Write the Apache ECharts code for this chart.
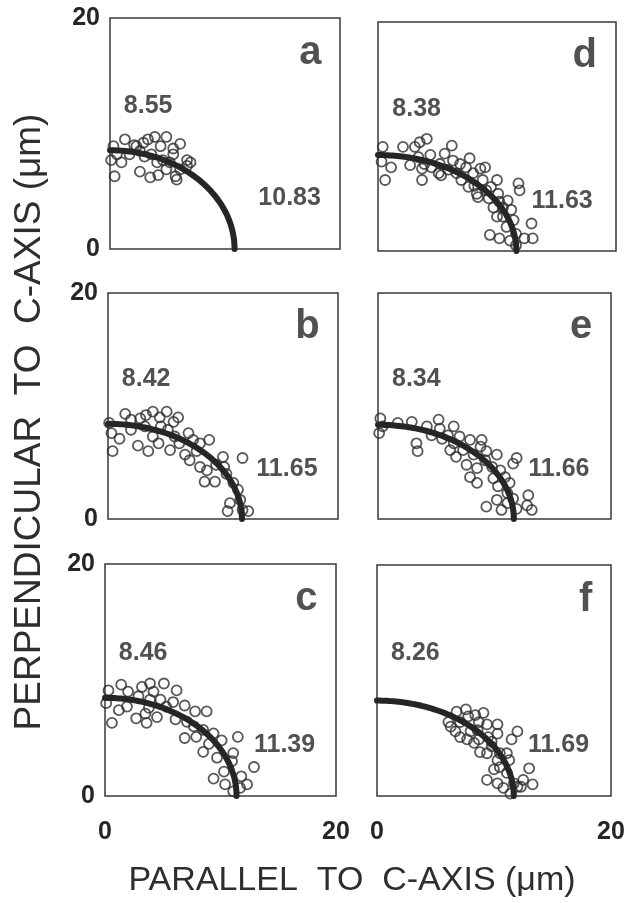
<!DOCTYPE html>
<html>
<head>
<meta charset="utf-8">
<script src="https://cdn.jsdelivr.net/npm/echarts@6/dist/echarts.min.js"></script>
<style>
  html, body { margin: 0; padding: 0; background: #fff; }
  #chart { width: 640px; height: 903px; }
</style>
</head>
<body>
<div id="chart"></div>
<script>
// Panel letters and fitted semi-axes (µm): perpendicular (b) and parallel (a)
const panelNames = ['a', 'b', 'c', 'd', 'e', 'f'];
const semiPerp = [8.55, 8.42, 8.46, 8.38, 8.34, 8.26];
const semiPar = [10.83, 11.65, 11.39, 11.63, 11.66, 11.69];
const axisTicks = [0, 20];

// Measured grain outlines [parallel, perpendicular] per panel
const pointsA = [[0.3,8.9],[1.3,9.5],[2.1,9.0],[2.9,9.2],[3.3,9.5],[3.9,9.7],[4.9,9.7],[6.1,9.1],[0.6,8.2],[1.0,7.5],[0.4,6.3],[1.7,8.2],[2.6,8.5],[3.0,8.0],[3.6,8.2],[4.4,8.9],[5.5,8.7],[5.5,8.2],[6.7,7.7],[7.0,7.5],[2.6,6.7],[3.5,6.2],[4.2,6.4],[4.9,6.9],[5.7,6.3],[5.8,6.0],[6.1,6.9],[6.7,7.2],[4.1,7.5],[4.6,7.7],[0.1,7.7],[2.3,8.9],[5.2,7.5]];
const pointsB = [[0.1,8.5],[0.3,7.6],[0.4,6.0],[1.0,7.1],[1.5,9.3],[2.0,8.8],[2.8,8.9],[3.3,9.2],[3.9,9.5],[4.5,9.0],[5.1,9.5],[6.1,9.0],[2.6,6.5],[3.5,6.0],[3.9,7.3],[4.4,6.7],[4.6,8.2],[5.2,7.9],[5.7,8.6],[5.8,7.3],[6.2,6.7],[7.0,7.6],[7.4,7.0],[8.0,6.7],[8.8,7.0],[6.7,5.7],[7.1,5.2],[7.7,6.0],[8.0,4.6],[8.6,4.3],[9.4,4.8],[10.0,5.5],[10.1,4.6],[8.4,3.3],[9.3,3.3],[10.3,4.0],[10.9,3.2],[11.3,2.6],[11.5,1.7],[10.6,1.4],[10.4,0.7],[11.7,0.8],[12.2,0.7],[11.7,5.4],[3.2,8.2],[2.0,7.9],[5.4,6.1]];
const pointsC = [[0.3,9.1],[0.1,8.0],[0.6,6.3],[1.2,7.4],[1.4,9.6],[2.0,9.0],[2.9,8.6],[3.2,9.4],[3.9,9.7],[4.2,9.0],[5.1,9.7],[6.2,9.1],[2.7,6.7],[3.6,6.3],[3.8,7.6],[4.5,6.8],[4.8,8.3],[5.3,7.7],[5.9,8.1],[6.1,6.6],[6.9,7.8],[7.8,7.3],[8.8,7.3],[7.1,6.4],[7.7,6.0],[7.9,5.1],[6.9,5.0],[8.5,5.7],[9.0,4.5],[9.4,5.4],[10.1,4.8],[8.5,3.8],[9.7,3.3],[10.3,2.1],[11.0,3.0],[11.1,3.7],[9.4,1.5],[10.4,1.0],[11.1,0.4],[11.8,1.7],[12.3,1.0],[11.7,0.7],[11.5,5.1],[12.9,2.5],[1.9,7.7],[3.9,8.3],[3.5,7.1]];
const pointsD = [[0.4,9.1],[0.3,7.8],[0.6,6.2],[1.1,7.3],[2.1,9.1],[3.1,9.1],[3.5,9.5],[4.1,9.8],[3.4,8.2],[3.7,7.2],[3.7,6.2],[4.4,8.4],[4.5,7.3],[5.2,7.6],[5.3,6.6],[5.6,8.5],[6.2,9.2],[6.3,7.9],[6.6,6.8],[7.0,6.2],[6.9,7.6],[7.4,7.3],[7.7,8.1],[8.0,6.8],[8.1,5.7],[8.6,7.2],[9.0,7.3],[8.8,6.2],[9.1,5.3],[8.4,4.7],[9.3,4.6],[9.5,5.6],[10.0,6.2],[10.1,5.0],[10.2,4.3],[9.7,3.8],[10.5,3.8],[11.2,3.6],[11.4,2.7],[10.5,3.0],[10.8,2.1],[9.4,1.4],[10.2,1.1],[11.1,0.9],[11.6,1.5],[12.3,1.1],[12.9,2.4],[13.0,1.1],[11.6,0.5],[11.9,5.3],[11.8,5.9],[5.1,6.8],[5.9,7.1],[3.9,7.6],[2.7,7.5],[8.3,5.0],[7.6,5.6],[10.0,3.0],[10.9,4.4]];
const pointsE = [[0.2,8.9],[0.1,7.6],[0.4,8.2],[1.7,8.5],[2.9,8.6],[3.4,6.0],[3.3,6.7],[4.2,8.2],[4.6,7.4],[5.2,8.8],[5.3,8.0],[5.5,7.1],[6.0,7.4],[6.2,6.1],[6.5,6.7],[6.7,5.5],[7.0,7.3],[7.3,6.1],[7.6,4.8],[7.9,7.0],[8.2,5.7],[8.5,4.5],[8.8,6.4],[8.9,7.0],[9.2,5.2],[9.3,6.0],[9.8,4.6],[9.9,3.6],[10.2,5.7],[10.5,4.3],[10.3,2.9],[10.9,3.7],[11.3,3.2],[11.6,4.9],[11.9,5.4],[11.1,2.3],[11.6,1.8],[11.9,0.9],[12.9,2.1],[12.8,1.2],[13.2,0.8],[9.3,1.1],[10.2,1.7],[10.6,0.8],[11.1,1.4],[6.5,8.2],[8.5,3.2],[7.9,3.7]];
const pointsF = [[6.3,6.0],[6.1,6.4],[6.8,7.3],[7.6,7.5],[7.1,6.4],[7.8,6.9],[8.7,6.4],[9.1,7.2],[8.6,5.7],[9.4,6.2],[10.3,6.2],[7.1,5.1],[8.0,5.6],[8.3,4.6],[8.7,4.9],[9.5,5.1],[8.8,3.8],[7.7,4.9],[10.3,5.4],[9.8,4.3],[9.4,3.7],[10.5,3.7],[10.3,3.1],[10.0,2.3],[11.1,3.7],[11.3,3.1],[11.5,4.9],[12.0,5.6],[10.5,2.5],[11.1,2.0],[9.4,1.4],[10.3,1.1],[10.8,0.7],[11.7,1.1],[12.5,1.4],[13.0,2.4],[13.3,1.0],[12.0,0.8],[11.4,0.2],[12.3,0.8],[6.7,5.6],[8.4,7.0],[9.8,4.7]];
const panelPoints = [pointsA, pointsB, pointsC, pointsD, pointsE, pointsF];

// Plot rectangles (px) for the 3 x 2 layout; a-c in the left column, d-f in the right
const grids = [
  { left: 110, top: 18,  width: 230, height: 231 },
  { left: 108, top: 293, width: 230, height: 226 },
  { left: 105, top: 564, width: 231, height: 232 },
  { left: 378, top: 22,  width: 238, height: 229 },
  { left: 378, top: 293, width: 233, height: 226 },
  { left: 377, top: 565, width: 234, height: 231 }
];

const INK = '#262626';
const FONT = '"Liberation Sans", Arial, Helvetica, sans-serif';

// Quarter of the fitted ellipse from (0, b) to (a, 0)
function quarterEllipse(a, b) {
  const pts = [];
  const n = 90;
  for (let i = 0; i <= n; i++) {
    const t = (Math.PI / 2) * (i / n);
    pts.push([a * Math.sin(t), b * Math.cos(t)]);
  }
  return pts;
}

const option = {
  backgroundColor: '#fff',
  animation: false,
  textStyle: { fontFamily: FONT },
  grid: grids.map(g => Object.assign({
    show: true, borderColor: '#3a3a3a', borderWidth: 1.5, backgroundColor: 'transparent'
  }, g)),
  xAxis: grids.map((g, i) => ({
    type: 'value', gridIndex: i, min: axisTicks[0], max: axisTicks[1],
    interval: axisTicks[1] - axisTicks[0],
    axisLine: { show: false }, axisTick: { show: false }, splitLine: { show: false },
    axisLabel: {
      show: i === 2 || i === 5, margin: 24, color: INK,
      fontSize: 25, fontWeight: 'bold', fontFamily: FONT
    }
  })),
  yAxis: grids.map((g, i) => ({
    type: 'value', gridIndex: i, min: axisTicks[0], max: axisTicks[1],
    interval: axisTicks[1] - axisTicks[0],
    axisLine: { show: false }, axisTick: { show: false }, splitLine: { show: false },
    axisLabel: {
      show: i < 3, margin: 10, color: INK,
      fontSize: 25, fontWeight: 'bold', fontFamily: FONT
    }
  })),
  series: [],
  graphic: [
    {
      type: 'text', x: 352, y: 881,
      style: {
        text: 'PARALLEL  TO  C-AXIS (\u03bcm)', fill: '#2e2e2e',
        font: '34px ' + FONT, align: 'center', verticalAlign: 'middle'
      }
    },
    {
      type: 'text', x: 30, y: 422, rotation: Math.PI / 2,
      style: {
        text: 'PERPENDICULAR  TO  C-AXIS (\u03bcm)', fill: '#2e2e2e',
        font: '37px ' + FONT, align: 'center', verticalAlign: 'middle'
      }
    }
  ]
};

panelNames.forEach((name, i) => {
  // measured points: open circles
  option.series.push({
    type: 'scatter', xAxisIndex: i, yAxisIndex: i,
    data: panelPoints[i], symbol: 'circle', symbolSize: 10,
    itemStyle: { color: 'rgba(255,255,255,0)', borderColor: '#2e2e2e', borderWidth: 1.8 },
    z: 2
  });
  // fitted ellipse
  option.series.push({
    type: 'line', xAxisIndex: i, yAxisIndex: i,
    data: quarterEllipse(semiPar[i], semiPerp[i]),
    showSymbol: false, symbol: 'none',
    lineStyle: { color: '#262626', width: 6, cap: 'round' },
    z: 3
  });
  // panel letter and semi-axis values
  option.series.push({
    type: 'scatter', xAxisIndex: i, yAxisIndex: i,
    symbolSize: 0, silent: true, z: 4,
    data: [
      { value: [18.4, 17.0], label: { formatter: name, fontSize: 40, align: 'right' } },
      { value: [1.2, 12.35], label: { formatter: semiPerp[i].toFixed(2), fontSize: 25, align: 'left' } },
      { value: [12.9, 4.4], label: { formatter: semiPar[i].toFixed(2), fontSize: 25, align: 'left' } }
    ],
    label: {
      show: true, position: 'inside', color: INK, fontWeight: 'bold',
      fontFamily: FONT, verticalAlign: 'middle'
    }
  });
});

const chart = echarts.init(document.getElementById('chart'), null, { renderer: 'canvas' });
chart.setOption(option);
</script>
</body>
</html>
